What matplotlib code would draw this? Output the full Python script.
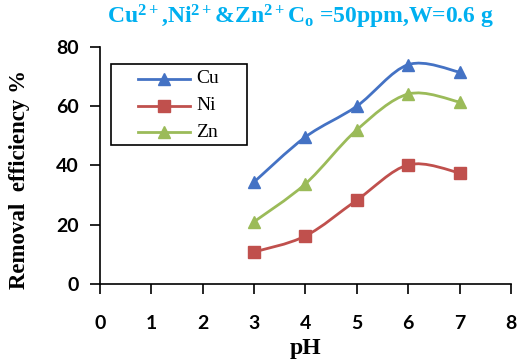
import numpy as np
import matplotlib
matplotlib.use("Agg")
import matplotlib.pyplot as plt
from matplotlib.path import Path
from matplotlib.patches import PathPatch, Rectangle
from matplotlib.lines import Line2D

plt.rcParams['mathtext.fontset'] = 'custom'
plt.rcParams['mathtext.rm'] = 'Liberation Serif:bold'
plt.rcParams['mathtext.it'] = 'Liberation Serif:bold'
plt.rcParams['mathtext.bf'] = 'Liberation Serif:bold'

ph = [3, 4, 5, 6, 7]
cu = [34.4, 49.6, 60.0, 74.0, 71.5]
ni = [10.8, 16.2, 28.3, 40.2, 37.5]
zn = [21.0, 33.8, 52.0, 64.1, 61.4]

series = {"Cu": cu, "Ni": ni, "Zn": zn}
colors = {"Cu": "#4472C4", "Ni": "#C0504D", "Zn": "#9BBB59"}
markers = {"Cu": "^", "Ni": "s", "Zn": "^"}


def smooth_path(x, y, t=1/6):
    # Excel-like smoothed line: cubic bezier through the points
    x = np.asarray(x, float)
    y = np.asarray(y, float)
    verts = [(x[0], y[0])]
    codes = [Path.MOVETO]
    n = len(x)
    for i in range(n - 1):
        p0 = (x[max(i - 1, 0)], y[max(i - 1, 0)])
        p1 = (x[i], y[i])
        p2 = (x[i + 1], y[i + 1])
        p3 = (x[min(i + 2, n - 1)], y[min(i + 2, n - 1)])
        c1 = (p1[0] + (p2[0] - p0[0]) * t, p1[1] + (p2[1] - p0[1]) * t)
        c2 = (p2[0] - (p3[0] - p1[0]) * t, p2[1] - (p3[1] - p1[1]) * t)
        verts += [c1, c2, p2]
        codes += [Path.CURVE4] * 3
    return Path(verts, codes)


fig = plt.figure(figsize=(5.23, 3.62), dpi=100)
ax = fig.add_axes([0.191, 0.2155, 0.786, 0.655])

for name, vals in series.items():
    ax.add_patch(PathPatch(smooth_path(ph, vals), fill=False,
                           edgecolor=colors[name], lw=2))
    ax.plot(ph, vals, linestyle='none', color=colors[name],
            marker=markers[name], markersize=9)

ax.set_xlim(0, 8)
ax.set_ylim(0, 80)
ax.set_xticks(range(0, 9))
ax.set_yticks(range(0, 81, 20))
ax.spines['top'].set_visible(False)
ax.spines['right'].set_visible(False)
ax.spines['left'].set_linewidth(1.2)
ax.spines['bottom'].set_linewidth(1.2)
ax.tick_params(axis='x', direction='out', length=7, width=1.2, pad=15)
ax.tick_params(axis='y', direction='out', length=7, width=1.2, pad=8)
for lab in ax.get_xticklabels() + ax.get_yticklabels():
    lab.set_fontfamily('Lato')
    lab.set_fontweight('bold')
    lab.set_fontsize(14)

ax.set_xlabel("pH", fontfamily='Liberation Serif', fontweight='bold',
              fontsize=17, labelpad=5)
ax.set_ylabel("Removal  efficiency %", fontfamily='Liberation Serif',
              fontweight='bold', fontsize=16.5)
ax.yaxis.set_label_coords(-0.17, 0.44)

# legend box drawn like the Excel one
ax.add_patch(Rectangle((0.027, 0.586), 0.331, 0.342, transform=ax.transAxes,
                       fill=True, facecolor='white', edgecolor='black',
                       lw=1.2, zorder=5))
rows = [0.865, 0.751, 0.641]
for name, yy in zip(series, rows):
    ax.add_line(Line2D([0.092, 0.219], [yy, yy], transform=ax.transAxes,
                       color=colors[name], lw=2, zorder=6))
    ax.add_line(Line2D([0.156], [yy], transform=ax.transAxes,
                       color=colors[name], marker=markers[name],
                       markersize=9, zorder=7))
    ax.text(0.234, yy, name, transform=ax.transAxes, va='center',
            ha='left', fontfamily='Liberation Serif', fontsize=14, zorder=7)

fig.text(0.575, 0.952, r"Cu$^{2+}$,Ni$^{2+}$&Zn$^{2+}$C$_{\mathrm{o}}$ =50ppm,W=0.6 g",
         color='#00B0F0', fontfamily='Liberation Serif', fontweight='bold',
         fontsize=17, ha='center', va='center')

fig.savefig("out.png", dpi=100)
